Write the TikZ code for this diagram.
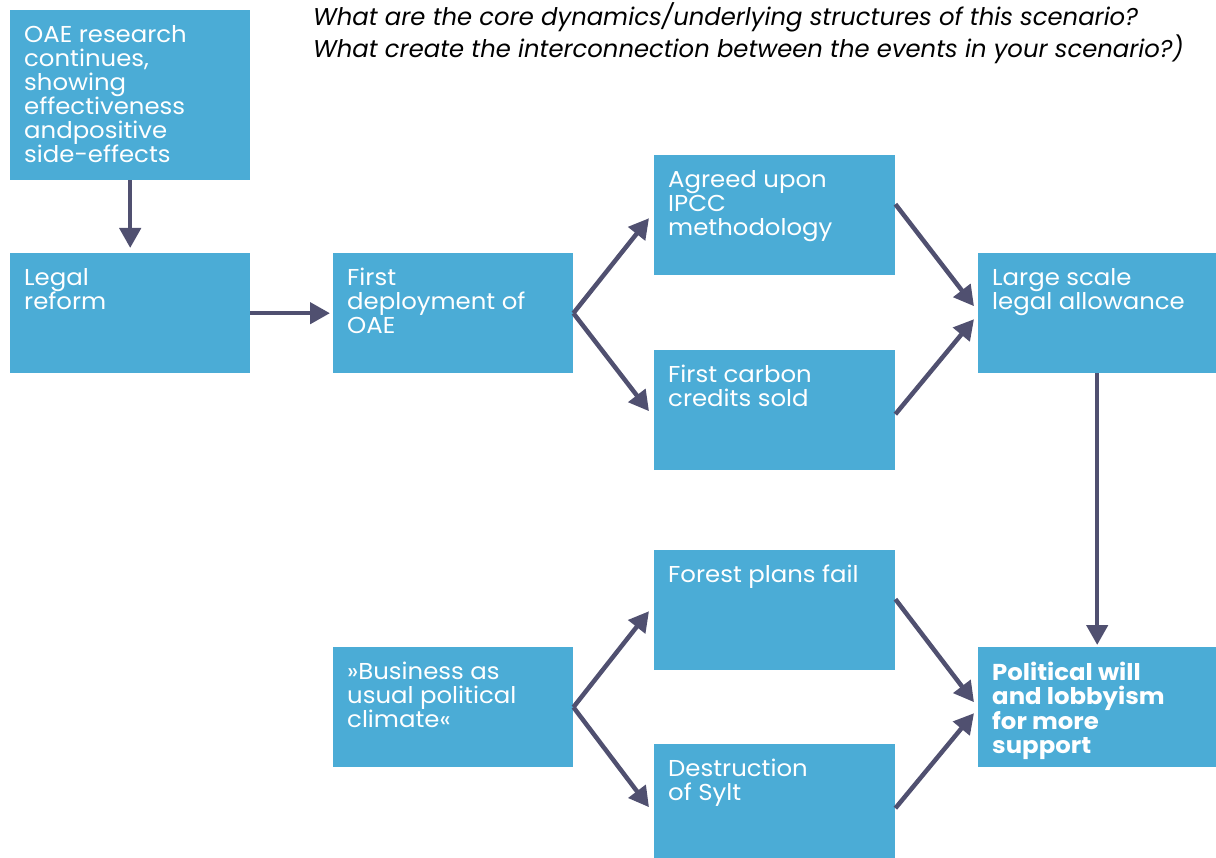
\documentclass[tikz,border=0pt]{standalone}
\usepackage{fontspec}
\setmainfont{Poppins}[FakeStretch=1.06]
\newfontfamily\titlefont{Poppins}
\usetikzlibrary{arrows.meta,calc}
\definecolor{boxblue}{RGB}{75,172,214}
\definecolor{arrowc}{RGB}{80,80,112}
\begin{document}
\begin{tikzpicture}[x=1pt,y=-1pt,
  evbox/.style={fill=boxblue, text=white, anchor=north west, inner xsep=14pt, inner ysep=15pt,
    font=\fontsize{23}{24}\selectfont},
  conn/.style={draw=arrowc, line width=4.5pt, -{Triangle[length=20pt,width=21pt]}},
  title/.style={anchor=north west, inner sep=0pt, align=left,
    font=\titlefont\fontsize{24.3}{32}\selectfont\itshape, text=black}]
\useasboundingbox (0,0) rectangle (1216,858);
\newcommand{\evtext}[3]{\parbox[t][#2pt][t]{#1pt}{\raggedright #3}}
\node[evbox] (oae) at (10,10) {\evtext{212}{140}{OAE research\\continues,\\showing\\effectiveness\\andpositive\\side-effects}};
\node[evbox] (legal) at (10,253) {\evtext{212}{90}{Legal\\reform}};
\node[evbox] (first) at (333,253) {\evtext{212}{90}{First\\deployment of\\OAE}};
\node[evbox] (agreed) at (654,155) {\evtext{213}{90}{Agreed upon\\IPCC\\methodology}};
\node[evbox] (carbon) at (654,350) {\evtext{213}{90}{First carbon\\credits sold}};
\node[evbox] (large) at (978,253) {\evtext{210}{90}{Large scale\\legal allowance}};
\node[evbox] (forest) at (654,550) {\evtext{213}{90}{Forest plans fail}};
\node[evbox] (bau) at (333,647) {\evtext{212}{90}{»Business as\\usual political\\climate«}};
\node[evbox] (sylt) at (654,744) {\evtext{213}{84}{Destruction\\of Sylt}};
\node[evbox] (polit) at (978,647) {\evtext{210}{90}{\bfseries Political will\\and lobbyism\\for more\\support}};
\node[title] (q) at (313,2) {What are the core dynamics/underlying structures of this scenario?\\What create the interconnection between the events in your scenario?)};
\draw[conn] (oae.south) -- ($(legal.north)+(0,-5)$);
\draw[conn] (legal.east) -- ($(first.west)+(-3,0)$);
\draw[conn] (first.east) -- ($(agreed.west)+(-5,3)$);
\draw[conn] (first.east) -- ($(carbon.west)+(-5,1)$);
\draw[conn] ($(agreed.east)+(0,-11)$) -- ($(large.west)+(-4,-7)$);
\draw[conn] ($(carbon.east)+(0,4)$) -- ($(large.west)+(-4,6)$);
\draw[conn] (large.south) -- ($(polit.north)+(0,-2)$);
\draw[conn] (bau.east) -- ($(forest.west)+(-5,1)$);
\draw[conn] (bau.east) -- ($(sylt.west)+(-5,6)$);
\draw[conn] ($(forest.east)+(0,-11)$) -- ($(polit.west)+(-4,-5)$);
\draw[conn] ($(sylt.east)+(0,7)$) -- ($(polit.west)+(-4,6)$);
\end{tikzpicture}
\end{document}
